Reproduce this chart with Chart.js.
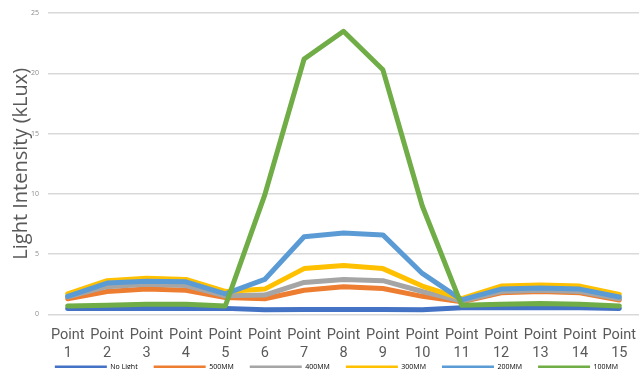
<!DOCTYPE html>
<html>
<head>
<meta charset="utf-8">
<script src="https://cdn.jsdelivr.net/npm/chart.js@4/dist/chart.umd.min.js"></script>
<style>
  html, body { margin: 0; padding: 0; background: #ffffff; }
  #wrap { width: 639px; height: 369px; position: relative; }
</style>
</head>
<body>
<div id="wrap"><canvas id="c" width="639" height="369"></canvas></div>
<script>
// Measurement points along the profile
const pointNumbers = ['1','2','3','4','5','6','7','8','9','10','11','12','13','14','15'];

// Light intensity (kLux) per configuration
const noLight = [0.5, 0.5, 0.5, 0.5, 0.5, 0.38, 0.4, 0.4, 0.4, 0.38, 0.55, 0.55, 0.55, 0.55, 0.5];
const mm500   = [1.3, 1.9, 2.1, 2.0, 1.4, 1.3, 2.0, 2.3, 2.15, 1.5, 1.05, 1.8, 1.9, 1.8, 1.2];
const mm400   = [1.45, 2.3, 2.5, 2.4, 1.55, 1.6, 2.65, 2.9, 2.8, 1.9, 1.1, 1.9, 2.0, 1.9, 1.3];
const mm300   = [1.7, 2.8, 3.0, 2.9, 1.9, 2.1, 3.8, 4.05, 3.8, 2.35, 1.3, 2.35, 2.45, 2.35, 1.65];
const mm200   = [1.5, 2.6, 2.75, 2.7, 1.7, 2.9, 6.45, 6.75, 6.6, 3.4, 1.2, 2.1, 2.2, 2.1, 1.45];
const mm100   = [0.7, 0.75, 0.85, 0.85, 0.7, 9.9, 21.2, 23.5, 20.3, 9.0, 0.75, 0.85, 0.9, 0.85, 0.7];

const seriesNames = ['No Light', '500MM', '400MM', '300MM', '200MM', '100MM'];
const seriesData = [noLight, mm500, mm400, mm300, mm200, mm100];
const seriesColors = ['#4472C4', '#ED7D31', '#A5A5A5', '#FFC000', '#5B9BD5', '#70AD47'];

const labels = pointNumbers.map(n => ['Point', n]);

const datasets = seriesNames.map((name, i) => ({
  label: name,
  data: seriesData[i],
  borderColor: seriesColors[i],
  backgroundColor: seriesColors[i],
  borderWidth: 5,
  borderCapStyle: 'round',
  borderJoinStyle: 'round',
  pointRadius: 0,
  pointHoverRadius: 0,
  tension: 0,
  fill: false,
  // later series are painted over earlier ones
  order: seriesNames.length - i
}));

// The two-line category labels hang below the x-axis box, so let the
// axis clip region reach the bottom of the canvas; the legend row is
// nudged right to sit under the plot.
const tickRoom = {
  id: 'tickRoom',
  afterLayout(chart) {
    chart.scales.x.bottom = chart.height;
    if (chart.legend) {
      chart.legend.left += 16;
      chart.legend.right += 16;
    }
  }
};

new Chart(document.getElementById('c'), {
  type: 'line',
  data: { labels, datasets },
  plugins: [tickRoom],
  options: {
    responsive: false,
    animation: false,
    events: [],
    layout: { padding: { top: 13, right: -2, left: 0, bottom: -11.2 } },
    plugins: {
      tooltip: { enabled: false },
      legend: {
        position: 'bottom',
        labels: {
          boxWidth: 52,
          boxHeight: 2.5,
          padding: 16,
          color: '#7f7f7f',
          font: { family: 'Open Sans', size: 7 },
          generateLabels: (chart) => chart.data.datasets.map((ds, i) => ({
            text: ds.label,
            fillStyle: ds.borderColor,
            strokeStyle: ds.borderColor,
            lineWidth: 0,
            datasetIndex: i,
            hidden: false
          }))
        }
      }
    },
    scales: {
      x: {
        offset: true,
        grid: { display: false, drawTicks: false },
        border: { display: false },
        ticks: {
          color: '#595959',
          font: { family: 'Roboto', size: 14.5, lineHeight: 1.28 },
          padding: 11.5,
          maxRotation: 0,
          autoSkip: false
        },
        afterFit: (scale) => {
          scale.height = 32.8;
          scale.paddingLeft = 0;
          scale.paddingRight = 0;
        }
      },
      y: {
        min: 0,
        max: 25,
        grid: { color: '#d9d9d9', lineWidth: 1.5, drawTicks: false },
        border: { display: false },
        ticks: {
          stepSize: 5,
          color: '#8c8c8c',
          font: { family: 'Open Sans', size: 7 },
          padding: 9
        },
        title: {
          display: true,
          text: 'Light Intensity (kLux)',
          color: '#595959',
          font: { family: 'Open Sans', size: 20 },
          padding: { top: 9, bottom: 0 }
        },
        afterFit: (scale) => { scale.width = 48; }
      }
    }
  }
});
</script>
</body>
</html>
